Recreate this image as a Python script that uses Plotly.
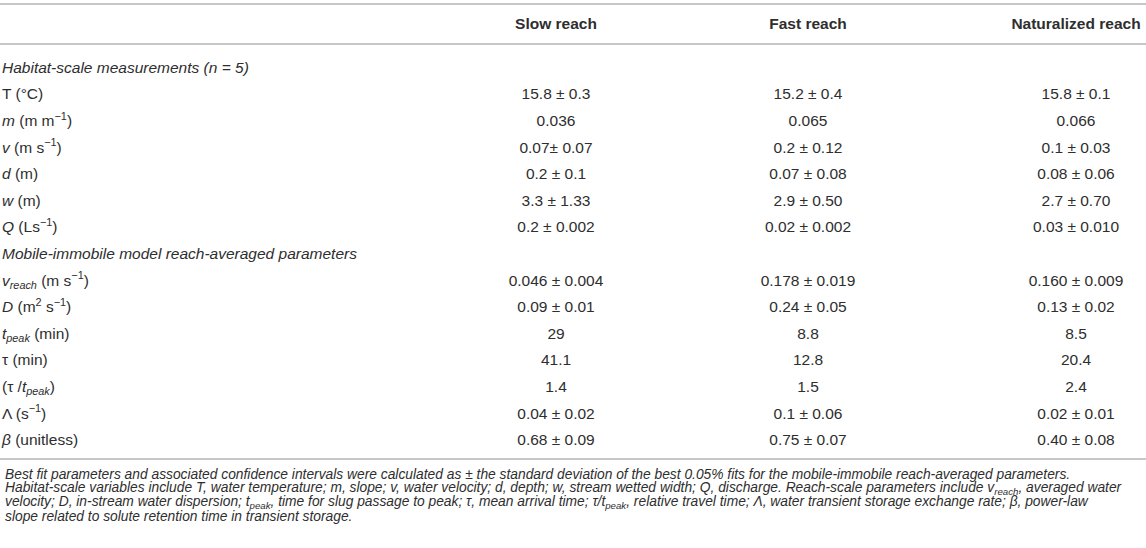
import plotly.graph_objects as go

# table content
col_headers = ["Slow reach", "Fast reach", "Naturalized reach"]

row_labels = [
    "<i>Habitat-scale measurements (n = 5)</i>",
    "T (°C)",
    "<i>m</i> (m m<sup>−1</sup>)",
    "<i>v</i> (m s<sup>−1</sup>)",
    "<i>d</i> (m)",
    "<i>w</i> (m)",
    "<i>Q</i> (Ls<sup>−1</sup>)",
    "<i>Mobile-immobile model reach-averaged parameters</i>",
    "<i>v<sub>reach</sub></i> (m s<sup>−1</sup>)",
    "<i>D</i> (m<sup>2</sup> s<sup>−1</sup>)",
    "<i>t<sub>peak</sub></i> (min)",
    "τ (min)",
    "(τ /<i>t<sub>peak</sub></i>)",
    "Λ (s<sup>−1</sup>)",
    "<i>β</i> (unitless)",
]

slow_reach = ["", "15.8 ± 0.3", "0.036", "0.07± 0.07", "0.2 ± 0.1", "3.3 ± 1.33", "0.2 ± 0.002",
              "", "0.046 ± 0.004", "0.09 ± 0.01", "29", "41.1", "1.4", "0.04 ± 0.02", "0.68 ± 0.09"]
fast_reach = ["", "15.2 ± 0.4", "0.065", "0.2 ± 0.12", "0.07 ± 0.08", "2.9 ± 0.50", "0.02 ± 0.002",
              "", "0.178 ± 0.019", "0.24 ± 0.05", "8.8", "12.8", "1.5", "0.1 ± 0.06", "0.75 ± 0.07"]
naturalized_reach = ["", "15.8 ± 0.1", "0.066", "0.1 ± 0.03", "0.08 ± 0.06", "2.7 ± 0.70", "0.03 ± 0.010",
                     "", "0.160 ± 0.009", "0.13 ± 0.02", "8.5", "20.4", "2.4", "0.02 ± 0.01", "0.40 ± 0.08"]

footnote_lines = [
    "Best fit parameters and associated confidence intervals were calculated as ± the standard deviation of the best 0.05% fits for the mobile-immobile reach-averaged parameters.",
    "Habitat-scale variables include T, water temperature; m, slope; v, water velocity; d, depth; w, stream wetted width; Q, discharge. Reach-scale parameters include v<sub>reach</sub>, averaged water",
    "velocity; D, in-stream water dispersion; t<sub>peak</sub>, time for slug passage to peak; τ, mean arrival time; τ/t<sub>peak</sub>, relative travel time; Λ, water transient storage exchange rate; β, power-law",
    "slope related to solute retention time in transient storage.",
]

# layout (pixel units)
W, H = 1146, 548
FONT = "Liberation Sans, Arial, sans-serif"
TXT = "#2e2e2e"
RULE = "#b4b4b4"
col_x = [556, 808, 1076]
header_y = 25
row0, row_h = 69, 26.6
row_y = [row0 + i * row_h for i in range(len(row_labels))]
foot0, foot_h = 474, 14.2

fig = go.Figure()

fig.add_trace(go.Scatter(
    x=[2] * len(row_labels), y=row_y, text=row_labels, mode="text",
    textposition="middle right", textfont=dict(family=FONT, size=15.5, color=TXT),
    hoverinfo="skip", showlegend=False))

fig.add_trace(go.Scatter(
    x=col_x, y=[header_y] * 3, text=["<b>%s</b>" % h for h in col_headers], mode="text",
    textposition="middle center", textfont=dict(family=FONT, size=15.5, color=TXT),
    hoverinfo="skip", showlegend=False))

for cx, vals in zip(col_x, [slow_reach, fast_reach, naturalized_reach]):
    fig.add_trace(go.Scatter(
        x=[cx] * len(vals), y=row_y, text=vals, mode="text",
        textposition="middle center", textfont=dict(family=FONT, size=15.5, color=TXT),
        hoverinfo="skip", showlegend=False))

# horizontal rules
for ly in [4, 44, 459]:
    fig.add_shape(type="line", x0=0, x1=W, y0=ly, y1=ly, xref="x", yref="y",
                  line=dict(color=RULE, width=1.6))

# footnote, one annotation per line to match the tight line spacing
for i, line in enumerate(footnote_lines):
    fig.add_annotation(
        x=3, y=foot0 + i * foot_h, xref="x", yref="y", xanchor="left", yanchor="middle",
        align="left", showarrow=False, text="<i>" + line + "</i>",
        font=dict(family=FONT, size=13.8, color=TXT))

fig.update_xaxes(range=[0, W], visible=False, fixedrange=True)
fig.update_yaxes(range=[H, 0], visible=False, fixedrange=True)
fig.update_layout(width=W, height=H, margin=dict(l=0, r=0, t=0, b=0),
                  paper_bgcolor="white", plot_bgcolor="white")

fig.write_html("out.html", config={"displayModeBar": False},
               post_script="document.body.style.margin='0';document.body.style.overflow='hidden';")
